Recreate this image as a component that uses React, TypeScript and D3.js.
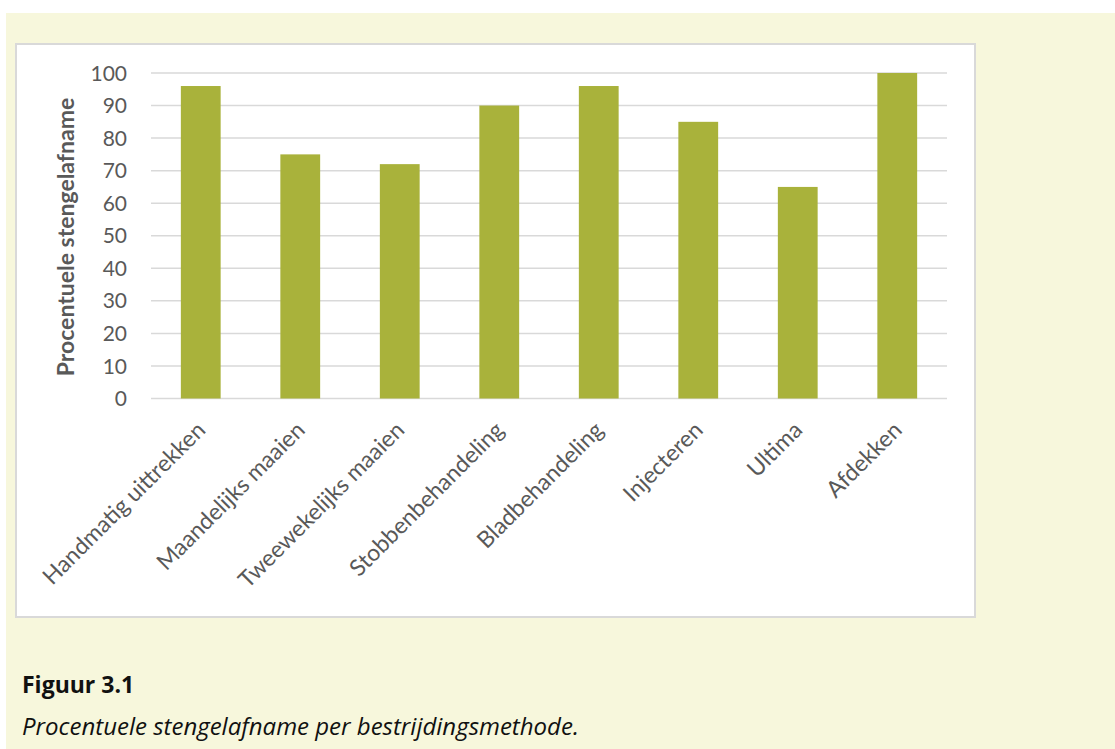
import * as d3 from "d3";
import React, { useRef, useEffect } from "react";

const categories = [
  "Handmatig uittrekken",
  "Maandelijks maaien",
  "Tweewekelijks maaien",
  "Stobbenbehandeling",
  "Bladbehandeling",
  "Injecteren",
  "Ultima",
  "Afdekken",
];
const values = [96, 75, 72, 90, 96, 85, 65, 100];
const yTicks = [0, 10, 20, 30, 40, 50, 60, 70, 80, 90, 100];

const W = 1115;
const H = 749;

const App = () => {
  const svgRef = useRef<SVGSVGElement>(null);

  useEffect(() => {
    const svg = d3.select(svgRef.current);
    svg.selectAll("*").remove();

    // panel + chart box
    svg.append("rect").attr("x", 6).attr("y", 13).attr("width", W - 6).attr("height", H - 13).attr("fill", "#f7f7dc");
    svg
      .append("rect")
      .attr("x", 16)
      .attr("y", 44)
      .attr("width", 959)
      .attr("height", 573)
      .attr("fill", "#ffffff")
      .attr("stroke", "#d9d9d9")
      .attr("stroke-width", 2);

    const x = d3.scaleBand().domain(categories).range([151, 947]).paddingInner(0.6).paddingOuter(0.3);
    const y = d3.scaleLinear().domain([0, 100]).range([398.5, 73]);

    // gridlines
    svg
      .append("g")
      .selectAll("line")
      .data(yTicks)
      .join("line")
      .attr("x1", 151)
      .attr("x2", 947)
      .attr("y1", (d) => y(d))
      .attr("y2", (d) => y(d))
      .attr("stroke", "#d9d9d9")
      .attr("stroke-width", 1.5);

    // bars
    svg
      .append("g")
      .selectAll("rect")
      .data(values)
      .join("rect")
      .attr("x", (d, i) => x(categories[i])!)
      .attr("y", (d) => y(d))
      .attr("width", x.bandwidth())
      .attr("height", (d) => y(0) - y(d))
      .attr("fill", "#a9b23b");

    // y tick labels
    svg
      .append("g")
      .selectAll("text")
      .data(yTicks)
      .join("text")
      .attr("x", 127)
      .attr("y", (d) => y(d))
      .attr("dy", "0.36em")
      .attr("text-anchor", "end")
      .attr("font-family", "Lato, sans-serif")
      .attr("font-size", 21)
      .attr("fill", "#595959")
      .text((d) => d);

    // x labels
    svg
      .append("g")
      .selectAll("text")
      .data(categories)
      .join("text")
      .attr("transform", (d) => `translate(${x(d)! + x.bandwidth() / 2 + 6},${y(0) + 33}) rotate(-45)`)
      .attr("text-anchor", "end")
      .attr("font-family", "Lato, sans-serif")
      .attr("font-size", 23)
      .attr("fill", "#595959")
      .text((d) => d);

    // y axis title
    svg
      .append("text")
      .attr("transform", `translate(74,237) rotate(-90)`)
      .attr("text-anchor", "middle")
      .attr("font-family", "Lato, sans-serif")
      .attr("font-weight", "bold")
      .attr("font-size", 23)
      .attr("fill", "#595959")
      .text("Procentuele stengelafname");

    // caption
    svg
      .append("text")
      .attr("x", 22)
      .attr("y", 693)
      .attr("font-family", "'Open Sans', sans-serif")
      .attr("font-weight", "bold")
      .attr("font-size", 23)
      .attr("fill", "#111111")
      .text("Figuur 3.1");
    svg
      .append("text")
      .attr("x", 22)
      .attr("y", 735)
      .attr("font-family", "'Open Sans', sans-serif")
      .attr("font-style", "italic")
      .attr("font-size", 24)
      .attr("fill", "#111111")
      .text("Procentuele stengelafname per bestrijdingsmethode.");
  }, []);

  return <svg ref={svgRef} width={W} height={H} style={{ position: "absolute", left: 0, top: 0 }} />;
};

export default App;
